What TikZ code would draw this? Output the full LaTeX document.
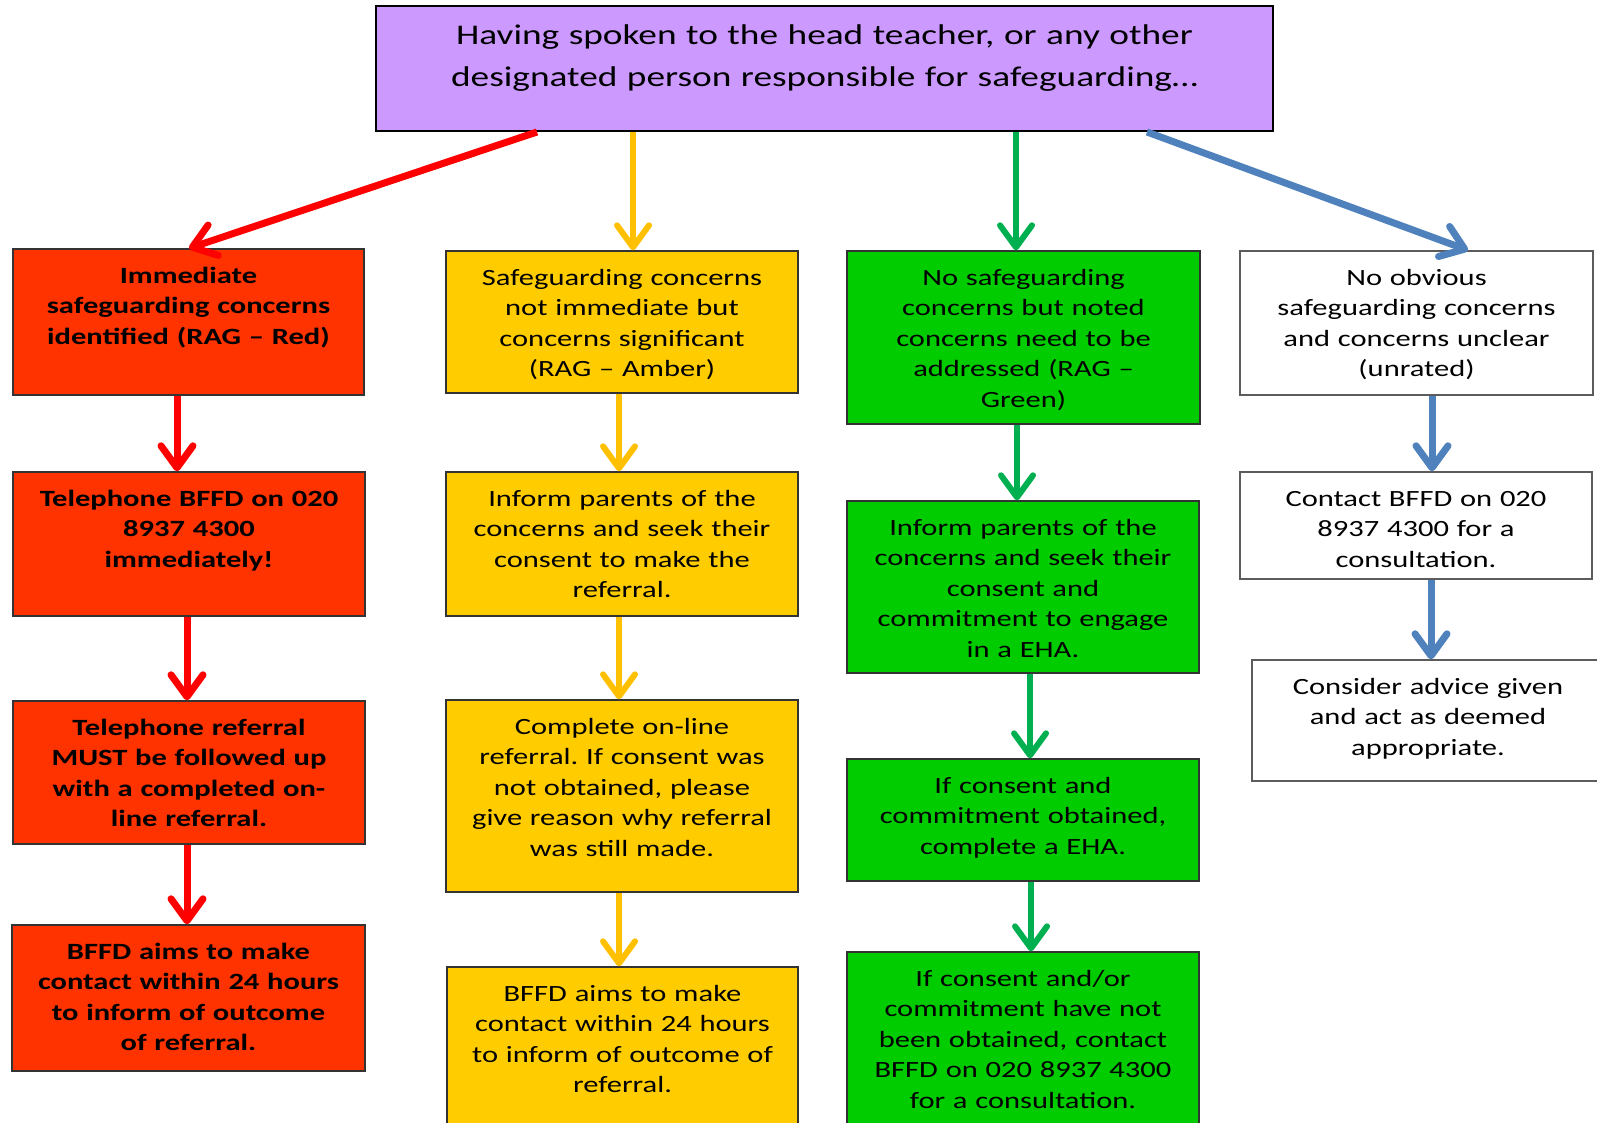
\documentclass[tikz,border=0pt]{standalone}
\usepackage{fontspec}
\newfontfamily\calfont[FakeStretch=1.31]{Carlito}
\usetikzlibrary{arrows.meta}
\definecolor{topfill}{HTML}{CC99FF}
\definecolor{redfill}{HTML}{FF3300}
\definecolor{amberfill}{HTML}{FFCC00}
\definecolor{greenfill}{HTML}{00CC00}
\definecolor{redarrow}{HTML}{FF0000}
\definecolor{amberarrow}{HTML}{FFC000}
\definecolor{greenarrow}{HTML}{00B050}
\definecolor{bluearrow}{HTML}{4F81BD}
\definecolor{edgegray}{HTML}{333333}
\frenchspacing
\begin{document}
\begin{tikzpicture}[x=1pt,y=-1pt,
  box/.style={draw=edgegray, line width=1.4pt, inner sep=0pt, rectangle},
  txt/.style={anchor=base, inner sep=0pt, align=center, text width=#1,
    font=\calfont\fontsize{23.3pt}{30.5pt}\selectfont},
  bigtxt/.style={anchor=base, inner sep=0pt, align=center, text width=#1,
    font=\calfont\fontsize{28.5pt}{41.5pt}\selectfont},
  arr/.style={-{Straight Barb[length=22pt,width=32pt,round]}, line cap=butt},
  redarr/.style={arr, draw=redarrow, line width=7pt},
  amberarr/.style={arr, draw=amberarrow, line width=6pt},
  greenarr/.style={arr, draw=greenarrow, line width=6pt},
  bluearr/.style={arr, draw=bluearrow, line width=7pt}]
\useasboundingbox (0,0) rectangle (1597,1122);
\clip (0,0) rectangle (1597,1122);

% boxes
\node[box, draw=black, line width=2pt, fill=topfill, minimum width=897pt, minimum height=125pt] (top) at (824.5,68.5) {};
\node[box, fill=redfill, minimum width=351pt, minimum height=146pt] (r1) at (188.5,322) {};
\node[box, fill=amberfill, minimum width=352pt, minimum height=142pt] (a1) at (622,322) {};
\node[box, fill=greenfill, minimum width=353pt, minimum height=173pt] (g1) at (1023.5,337.5) {};
\node[box, draw=edgegray!80, fill=white, minimum width=353pt, minimum height=144pt] (w1) at (1416.5,323) {};

\node[box, fill=redfill, minimum width=352pt, minimum height=144pt] (r2) at (189,544) {};
\node[box, fill=amberfill, minimum width=352pt, minimum height=144pt] (a2) at (622,544) {};
\node[box, fill=greenfill, minimum width=352pt, minimum height=172pt] (g2) at (1023,587) {};
\node[box, draw=edgegray!80, fill=white, minimum width=352pt, minimum height=107pt] (w2) at (1416,525.5) {};

\node[box, fill=redfill, minimum width=352pt, minimum height=143pt] (r3) at (189,772.5) {};
\node[box, fill=amberfill, minimum width=352pt, minimum height=192pt] (a3) at (622,796) {};
\node[box, fill=greenfill, minimum width=352pt, minimum height=122pt] (g3) at (1023,820) {};
\node[box, draw=edgegray!80, fill=white, minimum width=352pt, minimum height=121pt] (w3) at (1428,720.5) {};

\node[box, fill=redfill, minimum width=353pt, minimum height=146pt] (r4) at (188.5,998) {};
\node[box, fill=amberfill, minimum width=351pt, minimum height=163pt] (a4) at (622.5,1048.5) {};
\node[box, fill=greenfill, minimum width=352pt, minimum height=178pt] (g4) at (1023,1041) {};

% texts
\node[bigtxt=880pt] (topt) at ([yshift=-39.5pt]top.north) {Having spoken to the head teacher, or any other\\designated person responsible for safeguarding\ldots};

\node[txt=345pt] (r1t) at ([yshift=-35pt]r1.north) {\bfseries Immediate\\safeguarding concerns\\identified (RAG – Red)};
\node[txt=345pt] (a1t) at ([yshift=-35pt]a1.north) {Safeguarding concerns\\not immediate but\\concerns significant\\(RAG – Amber)};
\node[txt=345pt] (g1t) at ([yshift=-35pt]g1.north) {No safeguarding\\concerns but noted\\concerns need to be\\addressed (RAG –\\Green)};
\node[txt=345pt] (w1t) at ([yshift=-35pt]w1.north) {No obvious\\safeguarding concerns\\and concerns unclear\\(unrated)};

\node[txt=345pt] (r2t) at ([yshift=-35pt]r2.north) {\bfseries Telephone BFFD on 020\\8937 4300\\immediately!};
\node[txt=345pt] (a2t) at ([yshift=-35pt]a2.north) {Inform parents of the\\concerns and seek their\\consent to make the\\referral.};
\node[txt=345pt] (g2t) at ([yshift=-35pt]g2.north) {Inform parents of the\\concerns and seek their\\consent and\\commitment to engage\\in a EHA.};
\node[txt=345pt] (w2t) at ([yshift=-35pt]w2.north) {Contact BFFD on 020\\8937 4300 for a\\consultation.};

\node[txt=345pt] (r3t) at ([yshift=-35pt]r3.north) {\bfseries Telephone referral\\MUST be followed up\\with a completed on-\\line referral.};
\node[txt=345pt] (a3t) at ([yshift=-35pt]a3.north) {Complete on-line\\referral. If consent was\\not obtained, please\\give reason why referral\\was still made.};
\node[txt=345pt] (g3t) at ([yshift=-35pt]g3.north) {If consent and\\commitment obtained,\\complete a EHA.};
\node[txt=345pt] (w3t) at ([yshift=-35pt]w3.north) {Consider advice given\\and act as deemed\\appropriate.};

\node[txt=345pt] (r4t) at ([yshift=-35pt]r4.north) {\bfseries BFFD aims to make\\contact within 24 hours\\to inform of outcome\\of referral.};
\node[txt=345pt] (a4t) at ([yshift=-35pt]a4.north) {BFFD aims to make\\contact within 24 hours\\to inform of outcome of\\referral.};
\node[txt=345pt] (g4t) at ([yshift=-35pt]g4.north) {If consent and/or\\commitment have not\\been obtained, contact\\BFFD on 020 8937 4300\\for a consultation.};

% arrows from top
\draw[redarr] ([xshift=-287.5pt]top.south) -- ([xshift=0.5pt]r1.north);
\draw[amberarr] ([xshift=-191.5pt]top.south) -- ([xshift=11pt]a1.north);
\draw[greenarr] ([xshift=191.5pt]top.south) -- ([xshift=-7.5pt]g1.north);
\draw[bluearr] ([xshift=322.5pt]top.south) -- ([xshift=51.5pt]w1.north);

% red column
\draw[redarr] ([xshift=-11.5pt]r1.south) -- ([xshift=-12pt]r2.north);
\draw[redarr] ([xshift=-2pt]r2.south) -- ([xshift=-2pt]r3.north);
\draw[redarr] ([xshift=-2pt]r3.south) -- ([xshift=-1.5pt]r4.north);
% amber column
\draw[amberarr] ([xshift=-3pt]a1.south) -- ([xshift=-3pt]a2.north);
\draw[amberarr] ([xshift=-3pt]a2.south) -- ([xshift=-3pt]a3.north);
\draw[amberarr] ([xshift=-3pt]a3.south) -- ([xshift=-3.5pt]a4.north);
% green column
\draw[greenarr] ([xshift=-6.5pt]g1.south) -- ([xshift=-6pt]g2.north);
\draw[greenarr] ([xshift=7pt]g2.south) -- ([xshift=7pt]g3.north);
\draw[greenarr] ([xshift=8pt]g3.south) -- ([xshift=8pt]g4.north);
% blue column
\draw[bluearr] ([xshift=15.5pt]w1.south) -- ([xshift=16pt]w2.north);
\draw[bluearr] ([xshift=15pt]w2.south) -- ([xshift=3pt]w3.north);
\end{tikzpicture}
\end{document}
